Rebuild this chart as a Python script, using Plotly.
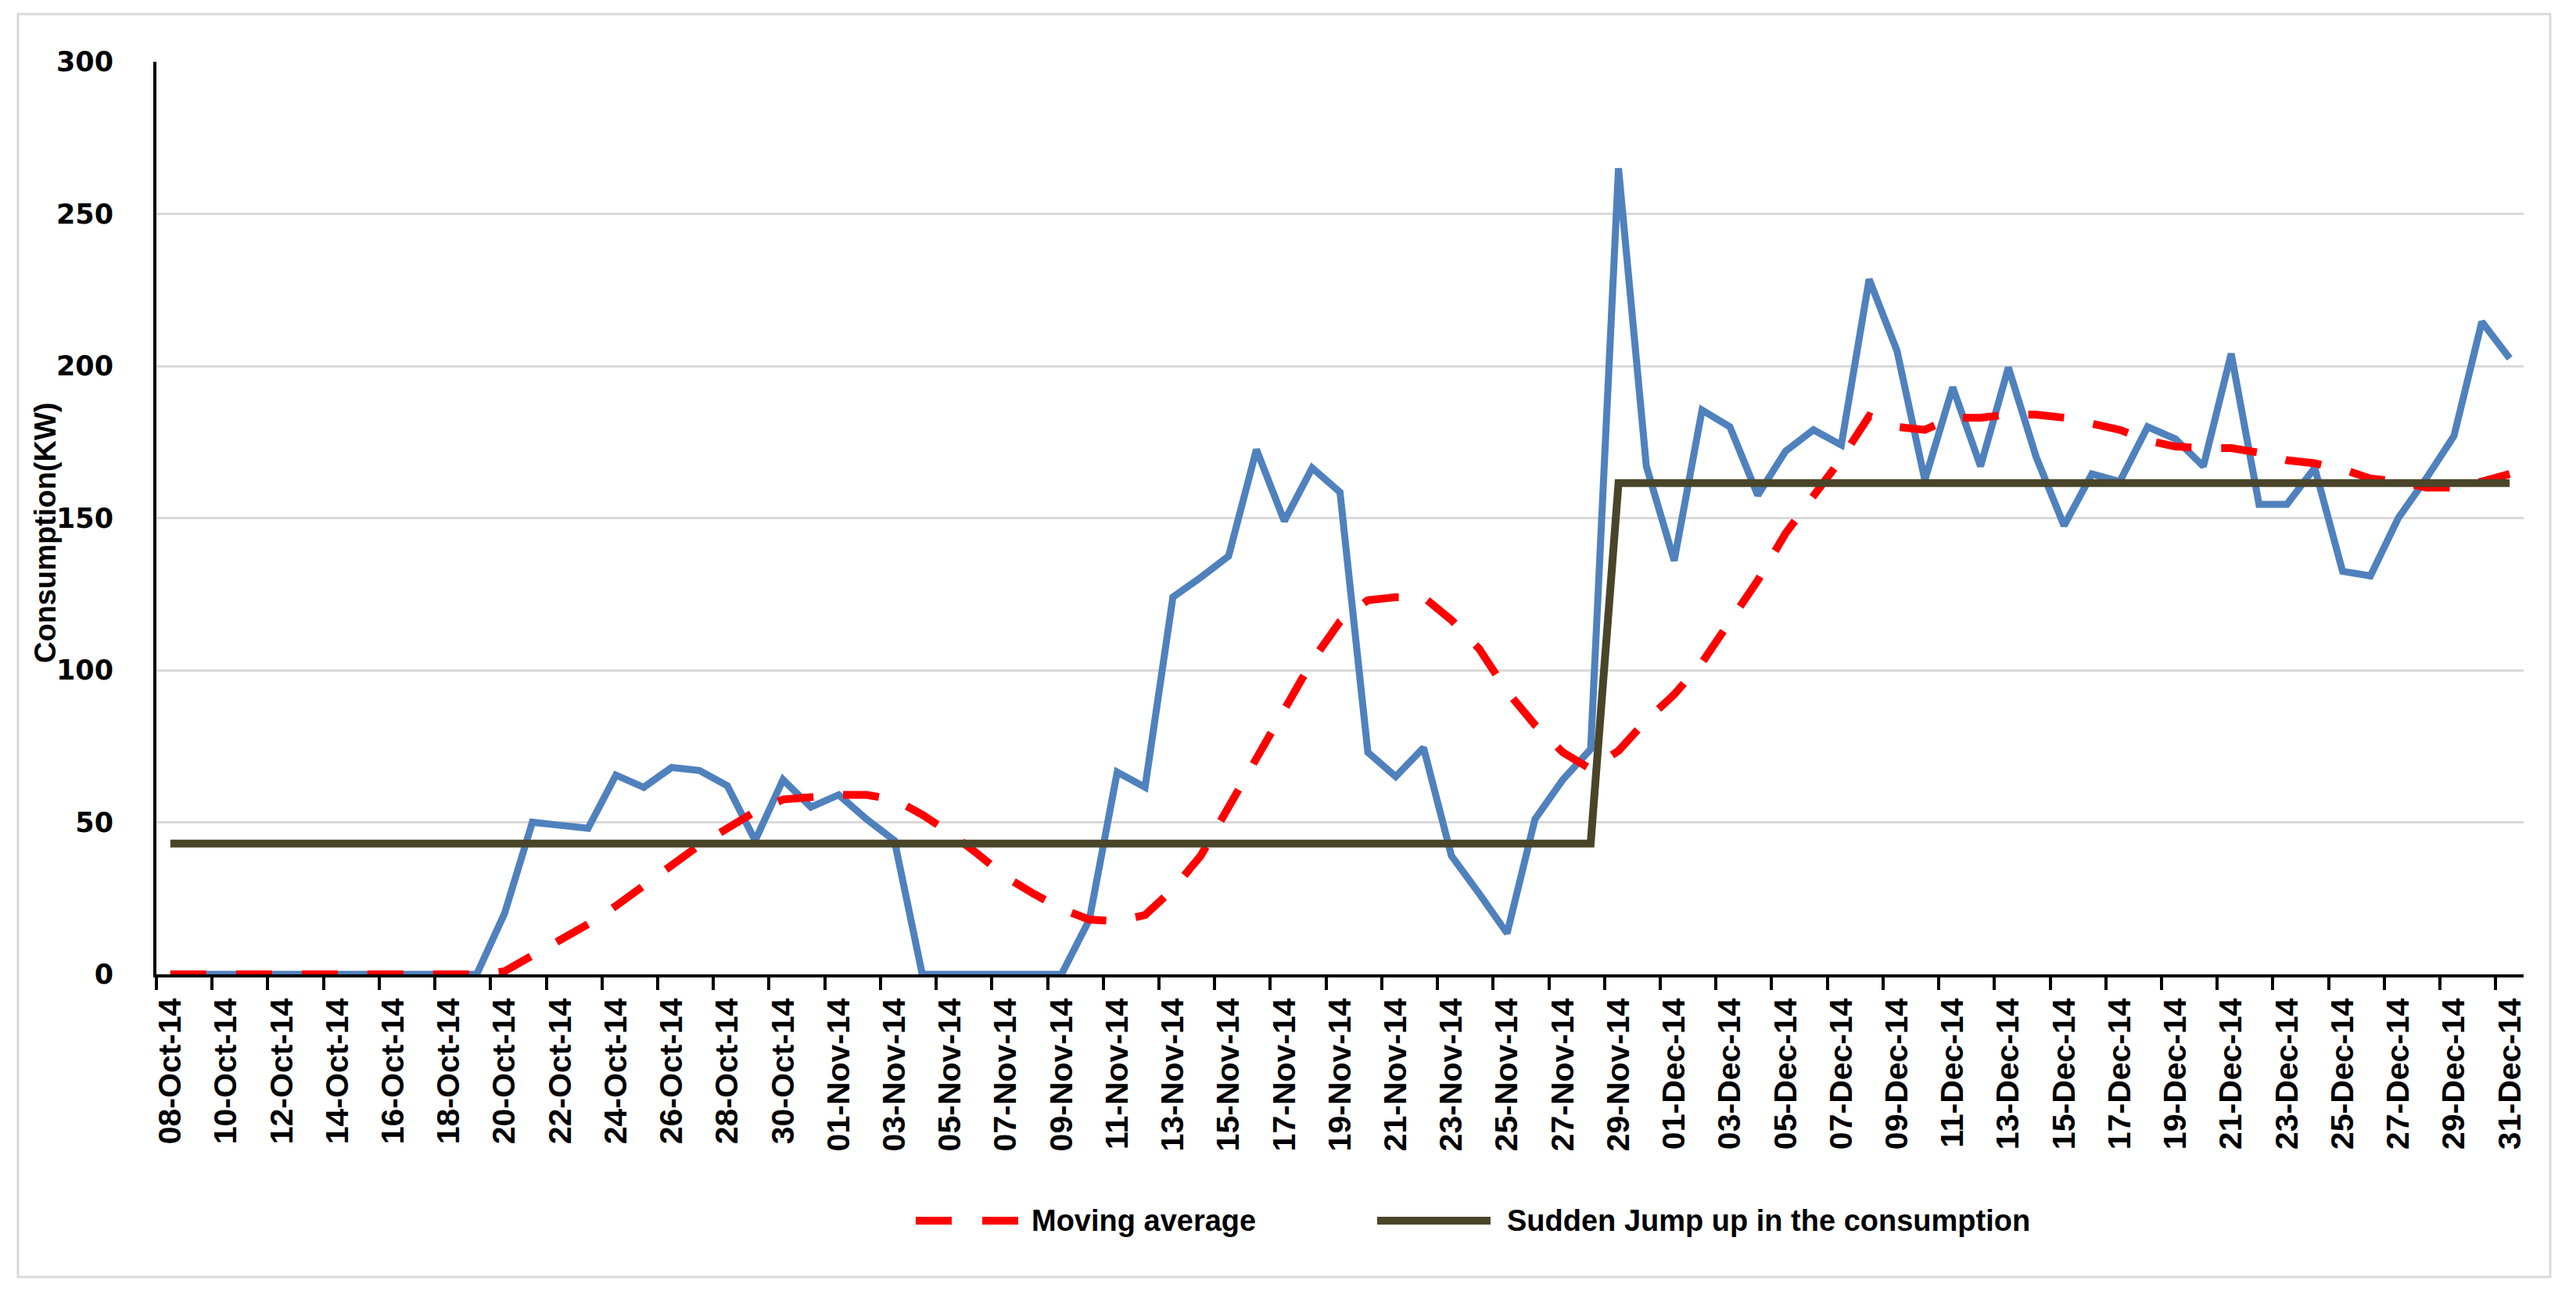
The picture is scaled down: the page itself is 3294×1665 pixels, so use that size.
import pandas as pd
import plotly.graph_objects as go

# ---- data ----
dates = [d.strftime("%d-%b-%y") for d in pd.date_range("2014-10-08", "2014-12-31", freq="D")]

consumption = [
    0, 0, 0, 0, 0, 0, 0, 0, 0, 0,
    0, 0, 20, 50, 49, 48, 65.5, 61.5, 68, 67,
    62, 44, 64, 55, 59, 51, 44, 0, 0, 0,
    0, 0, 0, 18, 66.5, 61.5, 124, 130.5, 137.5, 172.5,
    149, 166.5, 158.5, 73, 65, 74.5, 39, 26.5, 13.5, 51,
    64, 74, 265, 167, 136, 185.5, 180, 157.5, 172, 179,
    174, 228.5, 205, 162.5, 193, 167, 199.5, 170, 147.5, 164.5,
    162, 180, 176, 167, 204, 154.5, 154.5, 166.5, 132.5, 131,
    150, 163, 177, 214.5, 202.5,
]

moving_average = [
    0, 0, 0, 0, 0, 0, 0, 0, 0, 0,
    0, 0, 1, 6, 11, 16.5, 22.5, 29, 36, 42.5,
    48, 53.5, 57.5, 58.5, 59, 59, 57.5, 52.5, 46.5, 39.5,
    32, 26.5, 21.5, 18, 17.5, 19.5, 28, 39, 55, 71,
    86, 103, 116, 123, 124, 124, 116.5, 107, 93, 82,
    73, 67.5, 73.5, 83.5, 92, 102.5, 116, 129.5, 145, 157.5,
    169.5, 183.5, 180, 179, 183, 183, 184, 184, 183, 181,
    179, 175.5, 173.5, 173, 173, 171.5, 169, 168, 166, 163,
    162, 160, 160, 162, 164.5,
]

sudden_jump = [
    43, 43, 43, 43, 43, 43, 43, 43, 43, 43,
    43, 43, 43, 43, 43, 43, 43, 43, 43, 43,
    43, 43, 43, 43, 43, 43, 43, 43, 43, 43,
    43, 43, 43, 43, 43, 43, 43, 43, 43, 43,
    43, 43, 43, 43, 43, 43, 43, 43, 43, 43,
    43, 43, 161.5, 161.5, 161.5, 161.5, 161.5, 161.5, 161.5, 161.5,
    161.5, 161.5, 161.5, 161.5, 161.5, 161.5, 161.5, 161.5, 161.5, 161.5,
    161.5, 161.5, 161.5, 161.5, 161.5, 161.5, 161.5, 161.5, 161.5, 161.5,
    161.5, 161.5, 161.5, 161.5, 161.5,
]

y_ticks = [0, 50, 100, 150, 200, 250, 300]
series_names = ["Consumption", "Moving average", "Sudden Jump up in the consumption"]

# ---- styling ----
BLUE = "#4F81BD"
RED = "#FF0000"
BROWN = "#4A4529"
GRID = "#D9D9D9"

W, H = 3294, 1665
L, R, T, B = 200, 67, 79, 419
PW, PH = W - L - R, H - T - B

def px(xp):
    return (xp - L) / PW

def py(yp):
    return (H - B - yp) / PH

idx = list(range(len(dates)))
label_idx = idx[::2]
label_txt = dates[::2]
boundary_ticks = [i - 0.5 for i in label_idx]

fig = go.Figure()
fig.add_trace(go.Scatter(x=idx, y=consumption, mode="lines", name=series_names[0],
                         line=dict(color=BLUE, width=9), showlegend=False))
fig.add_trace(go.Scatter(x=idx, y=moving_average, mode="lines", name=series_names[1],
                         line=dict(color=RED, width=10, dash="46px,38px"), showlegend=False))
fig.add_trace(go.Scatter(x=idx, y=sudden_jump, mode="lines", name=series_names[2],
                         line=dict(color=BROWN, width=10), showlegend=False))

fig.update_layout(
    width=W, height=H, autosize=False,
    margin=dict(l=L, r=R, t=T, b=B, pad=0),
    paper_bgcolor="white", plot_bgcolor="white",
    showlegend=False,
    xaxis=dict(
        range=[-0.5, len(dates) - 0.5],
        tickmode="array", tickvals=label_idx, ticktext=label_txt,
        tickangle=-90, ticks="", ticklabelstandoff=10,
        tickfont=dict(family="Liberation Sans", size=41, color="black", weight="bold"),
        showline=True, linecolor="black", linewidth=4,
        showgrid=False, zeroline=False,
        minor=dict(tickmode="array", tickvals=boundary_ticks, ticks="outside",
                   ticklen=16, tickwidth=4, tickcolor="black", showgrid=False),
    ),
    yaxis=dict(
        range=[0, 300],
        tickmode="array", tickvals=y_ticks,
        ticks="", ticklabelstandoff=44,
        tickfont=dict(family="DejaVu Sans", size=35, color="black", weight="bold"),
        showline=True, linecolor="black", linewidth=4,
        showgrid=True, gridcolor=GRID, gridwidth=3, zeroline=False,
    ),
)

# y axis title
fig.add_annotation(text="Consumption(KW)", textangle=-90, showarrow=False,
                   xref="paper", yref="paper", x=px(58), y=py(682),
                   xanchor="center", yanchor="middle",
                   font=dict(family="Liberation Sans", size=38, color="black", weight="bold"))

# outer frame
fig.add_shape(type="rect", xref="paper", yref="paper",
              x0=px(23), x1=px(3261), y0=py(1633), y1=py(18),
              line=dict(color=GRID, width=3), layer="below")

# legend (drawn manually to match long samples)
LEG_Y = py(1561)
fig.add_shape(type="line", xref="paper", yref="paper", x0=px(1171), x1=px(1304), y0=LEG_Y, y1=LEG_Y,
              line=dict(color=RED, width=10, dash="46px,39px"))
fig.add_annotation(text=series_names[1], showarrow=False, xref="paper", yref="paper",
                   x=px(1317), y=LEG_Y, xanchor="left", yanchor="middle",
                   font=dict(family="Liberation Sans", size=38, color="black", weight="bold"))
fig.add_shape(type="line", xref="paper", yref="paper", x0=px(1761), x1=px(1906), y0=LEG_Y, y1=LEG_Y,
              line=dict(color=BROWN, width=10))
fig.add_annotation(text=series_names[2], showarrow=False, xref="paper", yref="paper",
                   x=px(1925), y=LEG_Y, xanchor="left", yanchor="middle",
                   font=dict(family="Liberation Sans", size=38, color="black", weight="bold"))

fig.write_html("out.html", config={"displayModeBar": False},
               post_script="document.body.style.margin='0';document.body.style.overflow='hidden';")
